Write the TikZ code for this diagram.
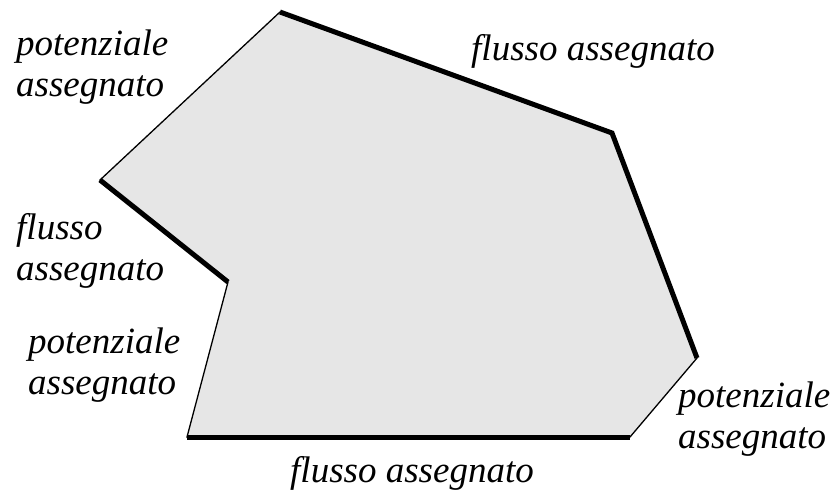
\documentclass[tikz,border=0pt]{standalone}
\usepackage{fontspec}
\setmainfont{Liberation Serif}[ItalicFont={Liberation Serif Italic}]
\definecolor{mygray}{RGB}{230,230,230}

\begin{document}
\begin{tikzpicture}[x=1pt,y=-1pt,
    thinedge/.style={line width=1.3pt},
    thickedge/.style={line width=5pt,line cap=butt,line join=miter},
    lbl/.style={inner sep=0pt,align=left,font=\fontsize{37}{41}\selectfont\itshape}
    ]
    \useasboundingbox (0,0) rectangle (833,501);

    % the corners of the domain
    \coordinate (vtop) at (280,12);
    \coordinate (vne) at (612,133);
    \coordinate (vse) at (697,358);
    \coordinate (vsr) at (630,437);
    \coordinate (vsl) at (187,437);
    \coordinate (vin) at (228,282);
    \coordinate (vw) at (100,180);

    % the domain
    \filldraw[fill=mygray,thinedge] (vtop) -- (vne) -- (vse) -- (vsr) -- (vsl) -- (vin) -- (vw) -- cycle;

    % the boundaries with assigned flux
    \draw[thickedge] (vtop) -- (vne) -- (vse);
    \draw[thickedge] (vsl) -- (vsr);
    \draw[thickedge] (vw) -- (vin);

    % the labels
    \node[lbl,anchor=north west] (pnw) at (16,30) {potenziale\\assegnato};
    \node[lbl,anchor=base west] (fn) at (471,60) {flusso assegnato};
    \node[lbl,anchor=north west] (fw) at (16,213) {flusso\\assegnato};
    \node[lbl,anchor=north west] (psw) at (28,328) {potenziale\\assegnato};
    \node[lbl,anchor=north west] (pse) at (678,382) {potenziale\\assegnato};
    \node[lbl,anchor=base west] (fs) at (290,482) {flusso assegnato};
\end{tikzpicture}
\end{document}
